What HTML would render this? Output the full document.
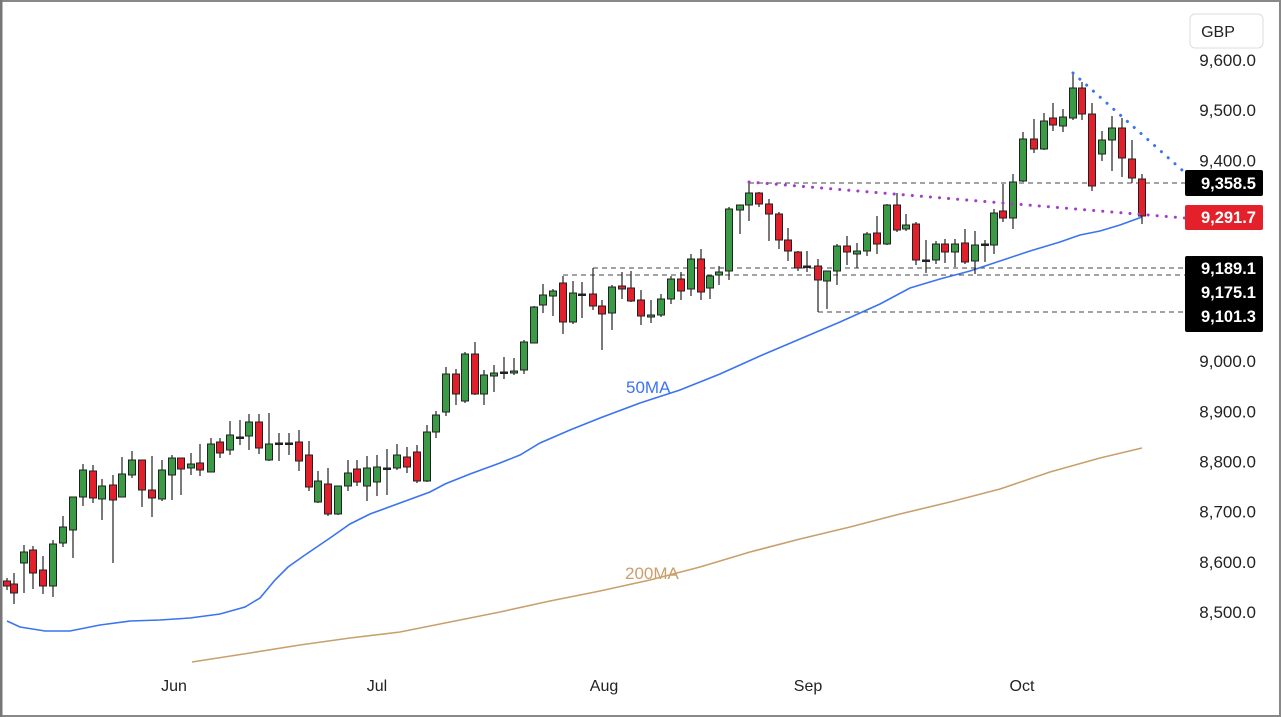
<!DOCTYPE html>
<html><head><meta charset="utf-8"><style>
html,body{margin:0;padding:0;background:#fff}
svg{display:block;font-family:"Liberation Sans",sans-serif}
</style></head><body>
<svg id="c" width="1281" height="717" viewBox="0 0 1281 717" xmlns="http://www.w3.org/2000/svg">
<rect x="0" y="0" width="1281" height="717" fill="#fff"/>
<rect x="1" y="1" width="1279" height="715" fill="none" stroke="#888" stroke-width="2"/>
<line x1="1" y1="0" x2="1" y2="717" stroke="#777" stroke-width="3"/>
<g stroke="#444" stroke-width="1" stroke-dasharray="5,4" fill="none">
<line x1="749" y1="183" x2="1185" y2="183"/>
<line x1="593" y1="268" x2="1185" y2="268"/>
<line x1="563" y1="275" x2="1185" y2="275"/>
<line x1="818" y1="312" x2="1185" y2="312"/>
</g>
<polyline fill="none" stroke="#3b74f0" stroke-width="1.6" points="7,621 20,627 45,631 70,631 100,625 130,621 160,620 190,618 220,614 245,607 260,598 275,580 288,567 305,555 330,538 350,524 370,514 400,503 430,492 445,484 470,474 500,463 520,455 540,443 570,430 600,418 640,403 680,390 720,374 760,356 800,339 840,322 880,304 910,288 940,279 970,271 1000,261 1030,251 1060,242 1080,235 1100,231 1120,225 1142,217"/>
<polyline fill="none" stroke="#c9a06c" stroke-width="1.6" points="192,662 250,653 300,645 350,638 400,632 450,622 500,612 550,601 600,591 650,580 700,567 750,552 800,539 850,527 900,514 950,502 1000,489 1050,472 1100,458 1142,448"/>
<g id="candles"></g>
<line x1="749" y1="182" x2="1185" y2="218" stroke="#a23fc8" stroke-width="3" stroke-dasharray="0.1,9" stroke-linecap="round"/>
<line x1="1073" y1="73" x2="1182" y2="170" stroke="#3b74f0" stroke-width="3" stroke-dasharray="0.1,9" stroke-linecap="round"/>
<text x="626" y="393" font-size="17" fill="#3b74f0">50MA</text>
<text x="625" y="579" font-size="17" fill="#c9a06c">200MA</text>
<g font-size="16" fill="#222" text-anchor="middle">
<text x="174" y="691">Jun</text><text x="377" y="691">Jul</text><text x="604" y="691">Aug</text><text x="808" y="691">Sep</text><text x="1022" y="691">Oct</text>
</g>
<g id="axis" font-size="17" fill="#222" text-anchor="end"></g>
<rect x="1190" y="14" width="73" height="34" rx="5" fill="#fff" stroke="#ddd"/>
<text x="1218" y="37" font-size="16" fill="#222" text-anchor="middle">GBP</text>
<rect x="1185" y="170" width="78" height="26" rx="2" fill="#000"/>
<text x="1256" y="189" font-size="16.5" font-weight="bold" fill="#fff" text-anchor="end">9,358.5</text>
<rect x="1185" y="205" width="78" height="25" rx="2" fill="#e4202b"/>
<text x="1256" y="223" font-size="16.5" font-weight="bold" fill="#fff" text-anchor="end">9,291.7</text>
<rect x="1185" y="256" width="78" height="76" rx="2" fill="#000"/>
<text x="1256" y="274" font-size="16.5" font-weight="bold" fill="#fff" text-anchor="end">9,189.1</text>
<text x="1256" y="298" font-size="16.5" font-weight="bold" fill="#fff" text-anchor="end">9,175.1</text>
<text x="1256" y="322" font-size="16.5" font-weight="bold" fill="#fff" text-anchor="end">9,101.3</text>
</svg>
<script>
var ns="http://www.w3.org/2000/svg";
var ax=document.getElementById("axis");
var vals=[9600,9500,9400,9000,8900,8800,8700,8600,8500];
vals.forEach(function(v){var y=60+(9600-v)*0.5018;var t=document.createElementNS(ns,"text");t.setAttribute("x","1256");t.setAttribute("y",(y+6).toFixed(1));t.textContent=v.toLocaleString("en-US")+".0";ax.appendChild(t);});
var C=[
[7,'r',581,586,578,590],
[14,'r',584,593,573,604],[24,'g',552,563,545,593],[33,'r',550,573,546,589],[43,'r',570,586,556,594],[53,'g',544,586,540,597],
[63,'g',527,543,516,547],[73,'g',497,530,497,558],[83,'g',470,497,464,506],[93,'r',471,498,465,503],[102,'g',486,499,479,520],
[113,'r',485,500,475,563],[122,'g',474,497,457,497],[132,'g',460,475,451,478],[142,'r',460,490,460,507],[152,'r',490,498,456,517],
[162,'g',470,499,460,501],[172,'g',458,475,455,500],[181,'r',458,469,458,495],[191,'g',464,468,453,475],[200,'r',463,470,444,476],
[211,'g',444,472,438,472],[220,'r',442,453,438,458],[230,'g',435,450,421,455],[240,'f',437,437,420,445],[249,'g',422,436,414,450],
[259,'r',422,448,414,454],[269,'g',444,460,413,461],[279,'f',443,443,433,461],[289,'f',443,443,433,455],[299,'r',442,461,430,471],
[309,'r',455,487,441,491],[318,'g',481,502,471,503],[328,'r',484,514,468,516],[338,'g',486,514,486,515],[348,'g',473,486,460,491],
[357,'r',469,482,460,486],[367,'g',468,486,456,501],[377,'g',467,482,455,496],[387,'f',468,468,449,495],[397,'g',455,468,444,470],
[407,'r',457,467,447,473],[417,'r',452,481,445,483],[427,'g',432,481,425,482],[436,'g',415,432,411,438],
[446,'g',374,412,367,416],[456,'r',374,394,369,405],[465,'g',354,401,352,403],[475,'r',354,394,342,395],[484,'g',375,394,370,405],
[494,'g',373,376,365,392],[504,'f',372,372,357,379],[514,'g',371,373,358,375],[524,'g',342,370,340,374],[534,'g',307,343,306,343],
[543,'g',295,305,284,313],[553,'g',291,296,289,316],[563,'r',283,322,276,334],[573,'g',293,322,281,324],[582,'f',294,294,282,318],
[593,'r',294,306,268,310],[602,'r',306,314,300,350],[612,'g',287,313,285,330],[622,'r',286,289,272,299],[631,'r',288,301,271,302],
[641,'r',300,316,290,325],[651,'g',315,317,300,323],[661,'g',299,315,294,317],[671,'g',279,299,276,304],[681,'r',279,291,272,300],
[691,'g',259,289,254,296],[701,'r',259,292,249,300],[710,'g',276,288,276,299],[719,'g',272,275,266,285],[729,'g',209,271,207,280],
[740,'g',205,210,206,234],[749,'g',193,205,182,221],[759,'r',193,204,192,207],[769,'r',204,214,199,241],[779,'r',214,240,212,249],
[788,'r',240,251,228,261],[798,'r',252,268,251,271],[807,'f',266,266,251,272],[818,'r',266,280,259,312],[827,'g',271,281,271,309],
[837,'g',246,271,244,285],[847,'r',246,252,236,265],[857,'g',251,254,243,268],[867,'g',234,251,232,256],[877,'r',233,244,216,254],
[887,'g',205,244,204,245],[897,'r',205,230,193,232],[906,'g',225,229,214,231],[916,'r',224,260,222,265],[926,'f',260,260,240,273],
[936,'g',244,260,241,264],[945,'r',244,252,239,263],[955,'g',244,252,239,267],[965,'r',243,262,229,264],[975,'g',245,261,231,274],
[985,'f',244,244,240,262],[994,'g',213,245,209,254],[1003,'r',211,218,184,222],[1013,'g',182,218,174,229],[1023,'g',139,181,132,182],
[1034,'r',139,149,119,153],[1044,'g',121,149,113,150],[1053,'r',118,125,103,131],[1063,'g',117,126,109,132],[1073,'g',88,118,73,120],
[1082,'r',88,114,82,120],[1092,'r',114,186,103,191],[1102,'g',140,154,131,161],[1112,'g',128,140,116,171],[1122,'r',128,158,118,177],
[1132,'r',159,178,140,183],[1142,'r',179,216,174,224]
];
var g=document.getElementById("candles");
C.forEach(function(c){
 var x=c[0],t=c[1],top=Math.min(c[2],c[3]),bot=Math.max(c[2],c[3]);
 var w=document.createElementNS(ns,"line");
 w.setAttribute("x1",x);w.setAttribute("x2",x);w.setAttribute("y1",c[4]);w.setAttribute("y2",c[5]);
 w.setAttribute("stroke","#222");w.setAttribute("stroke-width","1.2");g.appendChild(w);
 var r=document.createElementNS(ns,"rect");
 var h=Math.max(bot-top,1.5);
 r.setAttribute("x",x-3.5);r.setAttribute("y",top);r.setAttribute("width",7);r.setAttribute("height",h);
 r.setAttribute("fill",t=='g'?"#3a9a46":t=='r'?"#e2202b":"#222");
 r.setAttribute("stroke","#222");r.setAttribute("stroke-width","1");g.appendChild(r);
});
</script>
</body></html>
